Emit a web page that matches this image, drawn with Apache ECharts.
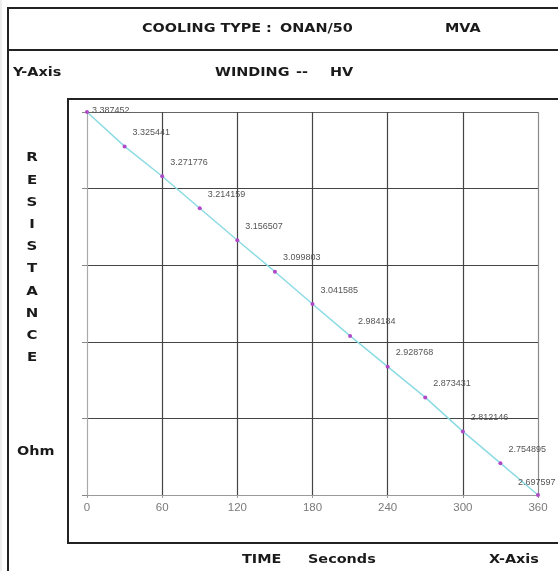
<!DOCTYPE html>
<html>
<head>
<meta charset="utf-8">
<script src="https://cdn.jsdelivr.net/npm/echarts@6/dist/echarts.min.js"></script>
<style>
html,body{margin:0;padding:0;background:#fff;}
#chart{width:558px;height:571px;}
</style>
</head>
<body>
<div id="chart"></div>
<script>
// ---- data ----
const times = [0, 30, 60, 90, 120, 150, 180, 210, 240, 270, 300, 330, 360];
const resistance = [3.387452, 3.325441, 3.271776, 3.214159, 3.156507, 3.099803, 3.041585,
                    2.984184, 2.928768, 2.873431, 2.812146, 2.754895, 2.697597];
const xTickInterval = 60;
const headerTitle = 'COOLING TYPE :';
const headerCooling = 'ONAN/50';
const headerUnit = 'MVA';
const windingLabel = 'WINDING';
const windingValue = 'HV';
const yAxisName = 'RESISTANCE';
const yUnit = 'Ohm';
const xName1 = 'TIME';
const xName2 = 'Seconds';

// ---- chart ----
const chart = echarts.init(document.getElementById('chart'), null, {renderer: 'canvas'});
const thin = '"Liberation Sans", Arial, sans-serif';
const boldFont = 'bold 12px "DejaVu Sans", Verdana, sans-serif';
const SX = 1.2;

function txt(text, x, y, extra) {
  return Object.assign({
    type: 'text', x: x, y: y, scaleX: SX, z: 100,
    style: {text: text, font: boldFont, fill: '#1a1a1a', align: 'left', verticalAlign: 'middle'}
  }, extra || {});
}

const seriesData = times.map((t, i) => {
  const item = {value: [t, resistance[i]]};
  if (i === 0) item.label = {offset: [-3, -1]};
  if (i === times.length - 1) item.label = {offset: [-28, -12]};
  return item;
});

const option = {
  backgroundColor: '#fff',
  animation: false,
  grid: {left: 87, right: 20, top: 112, bottom: 76, containLabel: false},
  xAxis: {
    type: 'value', min: 0, max: 360, interval: xTickInterval,
    axisLine: {show: true, onZero: false, lineStyle: {color: '#9a9a9a', width: 1}},
    axisTick: {show: true, length: 3, lineStyle: {color: '#9a9a9a'}},
    axisLabel: {fontFamily: thin, fontSize: 11.5, color: '#7a7a7a', margin: 7},
    splitLine: {show: true, lineStyle: {color: ['#aaa', '#444', '#444', '#444', '#444', '#444', '#8a8a8a'], width: 1.2}}
  },
  yAxis: [
    {type: 'value', min: Math.min(...resistance), max: Math.max(...resistance), show: false},
    {
      type: 'value', min: 0, max: 5, interval: 1, position: 'left',
      axisLine: {show: true, onZero: false, lineStyle: {color: '#aaa'}},
      axisTick: {show: true, length: 5, lineStyle: {color: '#888'}},
      axisLabel: {show: false},
      splitLine: {show: true, lineStyle: {color: ['#999', '#444', '#444', '#444', '#444', '#666'], width: 1.2}}
    }
  ],
  series: [{
    type: 'line', yAxisIndex: 0,
    data: seriesData,
    symbol: 'circle', symbolSize: 4,
    lineStyle: {color: '#8cdbe3', width: 1.5},
    itemStyle: {color: '#b048c8'},
    label: {
      show: true, position: 'right', distance: 6, offset: [0, -14],
      fontFamily: thin, fontSize: 9, color: '#555',
      formatter: p => p.value[1].toFixed(6)
    },
    z: 5
  }],
  graphic: [
    // frames
    {type: 'line', shape: {x1: 1, y1: 0, x2: 1, y2: 571}, style: {stroke: '#ddd', lineWidth: 1}},
    {type: 'polyline', shape: {points: [[8, 571], [8, 8], [560, 8]]}, style: {stroke: '#222', lineWidth: 2, fill: null}},
    {type: 'line', shape: {x1: 8, y1: 50, x2: 560, y2: 50}, style: {stroke: '#222', lineWidth: 2}},
    {type: 'rect', shape: {x: 68, y: 99, width: 500, height: 444}, style: {stroke: '#222', lineWidth: 2, fill: null}},
    // texts
    txt(headerTitle, 142, 29),
    txt(headerCooling, 280, 29),
    txt(headerUnit, 445, 29),
    txt('Y-Axis', 13, 73),
    txt(windingLabel, 215, 73),
    txt('--', 296, 73),
    txt(windingValue, 330, 73),
    txt(yUnit, 17, 452),
    txt(xName1, 242, 560),
    txt(xName2, 308, 560),
    txt('X-Axis', 489, 560),
    {
      type: 'text', x: 32, y: 147, scaleX: 1.15, z: 100,
      style: {
        text: yAxisName.split('').join('\n'), font: 'bold 13px "DejaVu Sans", Verdana, sans-serif', fill: '#1a1a1a',
        align: 'center', verticalAlign: 'top', lineHeight: 22.2
      }
    }
  ]
};
chart.setOption(option);
</script>
</body>
</html>
